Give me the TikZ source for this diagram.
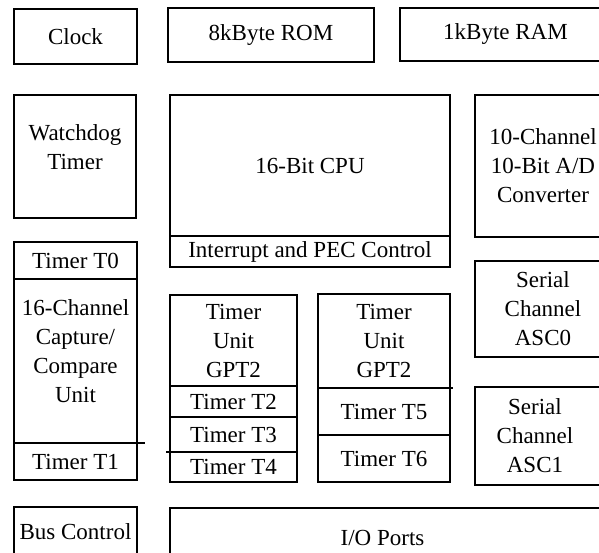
\documentclass[tikz,border=0pt]{standalone}
\usepackage{fontspec}
\setmainfont{Liberation Serif}
\usetikzlibrary{positioning}

\begin{document}
\begin{tikzpicture}[x=1pt,y=-1pt,
  blk/.style={draw,line width=2pt,inner sep=0pt,outer sep=0pt,align=center,font=\fontsize{23}{29}\selectfont},
  txt/.style={inner sep=0pt,align=center,font=\fontsize{23}{29}\selectfont}]
\useasboundingbox (0,0) rectangle (599,552);
\clip (0,0) rectangle (599,552);
\node[blk,minimum width=123pt,minimum height=55pt] (clock) at (75.5,36.5) {Clock};
\node[blk,minimum width=206pt,minimum height=54pt] (rom) at (271,35) {8kByte ROM};
\node[blk,minimum width=211pt,minimum height=53pt] (ram) at (505.5,34.5) {1kByte RAM};
\node[blk,minimum width=122pt,minimum height=123pt] (wdt) at (75,156.5) {};
\node[txt] (wdttext) at ([yshift=9pt]wdt.center) {Watchdog\\Timer};
\node[blk,minimum width=280pt,minimum height=141pt] (cpu) at (310,165.5) {16-Bit CPU};
\node[blk,minimum width=280pt,minimum height=31pt,below=0pt of cpu] (pec) {Interrupt and PEC Control};
\node[blk,minimum width=136pt,minimum height=142pt] (adc) at (543,166) {10-Channel\\10-Bit A/D\\Converter};
\node[blk,minimum width=123pt,minimum height=37pt] (t0) at (75.5,260.5) {Timer T0};
\node[blk,minimum width=123pt,minimum height=164pt,below=0pt of t0] (ccu) {};
\node[txt] (ccutext) at ([yshift=10pt]ccu.center) {16-Channel\\Capture/\\Compare\\Unit};
\node[blk,minimum width=123pt,minimum height=37pt,below=0pt of ccu] (t1) {Timer T1};
\draw[line width=2pt] (t1.north east) -- ++(8,0);
\node[blk,minimum width=127pt,minimum height=91pt] (gpta) at (233.5,340.5) {Timer\\Unit\\GPT2};
\node[blk,minimum width=127pt,minimum height=31pt,below=0pt of gpta] (t2) {Timer T2};
\node[blk,minimum width=127pt,minimum height=35pt,below=0pt of t2] (t3) {Timer T3};
\node[blk,minimum width=127pt,minimum height=30pt,below=0pt of t3] (t4) {Timer T4};
\draw[line width=2pt] (t4.north west) -- ++(-4,0);
\node[blk,minimum width=132pt,minimum height=94pt] (gptb) at (384,341) {Timer\\Unit\\GPT2};
\node[blk,minimum width=132pt,minimum height=47pt,below=0pt of gptb] (t5) {Timer T5};
\node[blk,minimum width=132pt,minimum height=47pt,below=0pt of t5] (t6) {Timer T6};
\draw[line width=2pt] (t5.north east) -- ++(3,0);
\node[blk,minimum width=136pt,minimum height=96pt] (asc0) at (543,309) {Serial\\Channel\\ASC0};
\node[blk,minimum width=136pt,minimum height=98pt] (asc1) at (543,436) {};
\node[txt] (asc1text) at ([xshift=-8pt]asc1.center) {Serial\\Channel\\ASC1};
\node[blk,minimum width=123pt,minimum height=49pt] (bus) at (75.5,531.5) {Bus Control};
\node[blk,minimum width=441pt,minimum height=60pt] (io) at (390.5,538) {};
\node[txt] (iotext) at ([xshift=-8pt]io.center) {I/O Ports};
\end{tikzpicture}
\end{document}
